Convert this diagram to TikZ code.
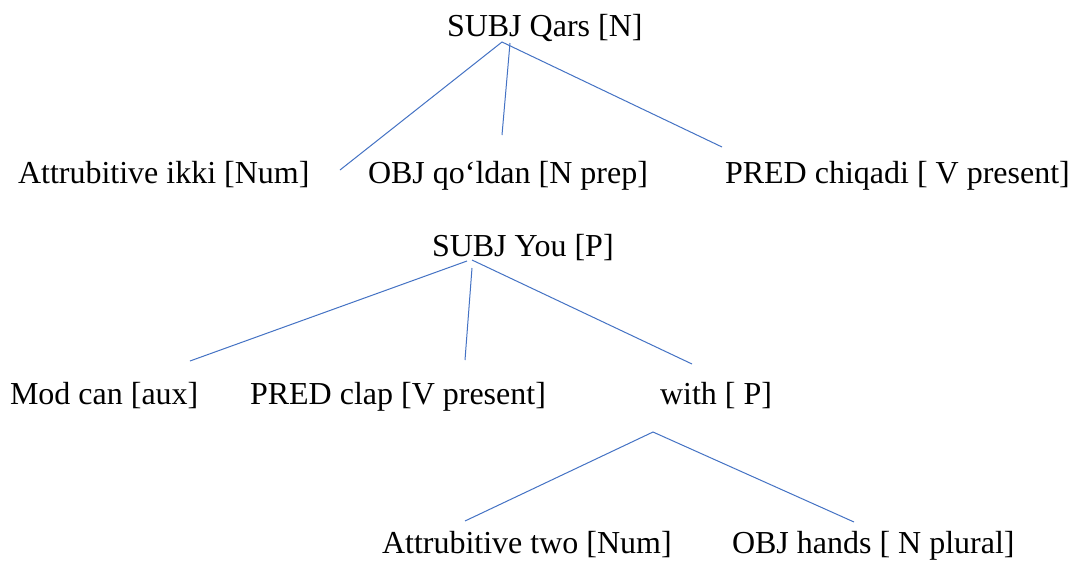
\documentclass[tikz,border=0pt]{standalone}
\usepackage{fontspec}
\setmainfont{Liberation Serif}
\begin{document}
\begin{tikzpicture}[x=1pt,y=-1pt,
  lbl/.style={anchor=base west,inner sep=0pt,outer sep=0pt,font=\fontsize{32}{38}\selectfont},
  edge/.style={draw=edgeblue,line width=1pt}]
\definecolor{edgeblue}{RGB}{68,114,196}
\useasboundingbox[fill=white] (0,0) rectangle (1077,563);
% tree 1
\node[lbl] (qars)    at (447,36)  {SUBJ Qars [N]};
\node[lbl] (ikki)    at (18,183)  {Attrubitive ikki [Num]};
\node[lbl] (qoldan)  at (368,183) {OBJ qo‘ldan [N prep]};
\node[lbl] (chiqadi) at (725,183) {PRED chiqadi [ V present]};
% tree 2
\node[lbl] (you)   at (432,256) {SUBJ You [P]};
\node[lbl] (can)   at (10,404)  {Mod can [aux]};
\node[lbl] (clap)  at (250,404) {PRED clap [V present]};
\node[lbl] (with)  at (660,404) {with [ P]};
\node[lbl] (two)   at (382,553) {Attrubitive two [Num]};
\node[lbl] (hands) at (732,553) {OBJ hands [ N plural]};
% connector ends
\coordinate (qars-a)  at (502,42);
\coordinate (qars-m)  at (510,43);
\coordinate (ikki-e)  at (340,170);
\coordinate (qoldan-e) at (502,135);
\coordinate (chiqadi-e) at (722,147);
\coordinate (you-a)  at (467,261);
\coordinate (you-b)  at (472,260);
\coordinate (you-m)  at (472,268);
\coordinate (can-e)  at (190,361);
\coordinate (clap-e) at (465,360);
\coordinate (with-e) at (692,364);
\coordinate (with-a) at (653,432);
\coordinate (two-e)  at (465,521);
\coordinate (hands-e) at (854,522);
% connectors
\draw[edge] (ikki-e) -- (qars-a) -- (chiqadi-e);
\draw[edge] (qars-m) -- (qoldan-e);
\draw[edge] (can-e) -- (you-a);
\draw[edge] (you-b) -- (with-e);
\draw[edge] (you-m) -- (clap-e);
\draw[edge] (two-e) -- (with-a) -- (hands-e);
\end{tikzpicture}
\end{document}
